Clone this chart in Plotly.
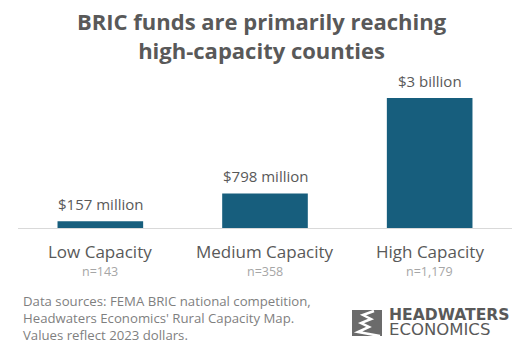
import plotly.graph_objects as go

categories = ["Low Capacity", "Medium Capacity", "High Capacity"]
counts = ["n=143", "n=358", "n=1,179"]
funding_millions = [157, 798, 3000]
value_labels = ["$157 million", "$798 million", "$3 billion"]
footer_lines = ["Data sources: FEMA BRIC national competition,",
                "Headwaters Economics' Rural Capacity Map.",
                "Values reflect 2023 dollars."]

W, H = 527, 347
FONT = "Open Sans"
BAR = "#175e7d"
DARK = "#595959"

def py(px):
    return 1 - px / H

def pxx(px):
    return px / W

fig = go.Figure()
fig.add_trace(go.Bar(
    x=categories, y=funding_millions,
    marker=dict(color=BAR, line=dict(width=0)),
    hoverinfo="skip",
))

annotations = []
for c, v, lab in zip(categories, funding_millions, value_labels):
    annotations.append(dict(x=c, y=v, xref="x", yref="y", text=lab, showarrow=False,
                            yanchor="bottom", yshift=5,
                            font=dict(family=FONT, size=15, color=DARK)))
for c, n in zip(categories, counts):
    annotations.append(dict(x=c, y=py(251), xref="x", yref="paper", text=c, showarrow=False,
                            yanchor="middle",
                            font=dict(family=FONT, size=17, color=DARK)))
    annotations.append(dict(x=c, y=py(271), xref="x", yref="paper", text=n, showarrow=False,
                            yanchor="middle",
                            font=dict(family=FONT, size=12.5, color="#a6a6a6")))

# title
annotations.append(dict(x=0.497, y=py(35), xref="paper", yref="paper",
                        text="<b>BRIC funds are primarily reaching<br>high-capacity counties</b>",
                        showarrow=False, yanchor="middle",
                        font=dict(family=FONT, size=22, color=DARK)))
# footer
annotations.append(dict(x=pxx(21), y=py(318), xref="paper", yref="paper",
                        text="<br>".join(footer_lines), showarrow=False,
                        xanchor="left", yanchor="middle", align="left",
                        font=dict(family=FONT, size=13.2, color="#7f7f7f")))
# logo text (one text block, tight line spacing)
annotations.append(dict(x=pxx(387), y=py(322), xref="paper", yref="paper",
                        text="<span style='font-size:15.6px'><b>HEADWATERS</b></span><br>"
                             "<span style='font-size:16.5px'>ECONOMICS</span>",
                        showarrow=False, xanchor="left", yanchor="middle", align="left",
                        font=dict(family="DejaVu Sans", size=11.2, color=DARK)))

shapes = [
    dict(type="rect", xref="paper", yref="paper", x0=pxx(352), x1=pxx(382), y0=py(336), y1=py(310),
         fillcolor="#6b6b6b", line=dict(width=0), layer="above"),
]
# river squiggle path in paper coords
pts = [(374, 311), (363, 315), (371, 319), (361, 323), (369, 327), (358, 332), (380, 336)]
path = "M " + " L ".join(f"{pxx(x):.5f},{py(y):.5f}" for x, y in pts)
shapes.append(dict(type="path", xref="paper", yref="paper", path=path,
                   line=dict(color="white", width=2.5), layer="above"))

fig.update_layout(
    width=W, height=H,
    margin=dict(l=0, r=0, t=0, b=0),
    paper_bgcolor="white", plot_bgcolor="white",
    showlegend=False,
    bargap=0.48,
    xaxis=dict(domain=[pxx(18), pxx(512)], showticklabels=False, ticks="",
               showgrid=False, showline=True, linecolor="#d9d9d9", linewidth=1,
               zeroline=False, fixedrange=True),
    yaxis=dict(domain=[py(228), py(80)], range=[0, 3000 * 148 / 130], visible=False,
               showgrid=False, zeroline=False, fixedrange=True),
    annotations=annotations,
    shapes=shapes,
)

fig.write_html("out.html")
